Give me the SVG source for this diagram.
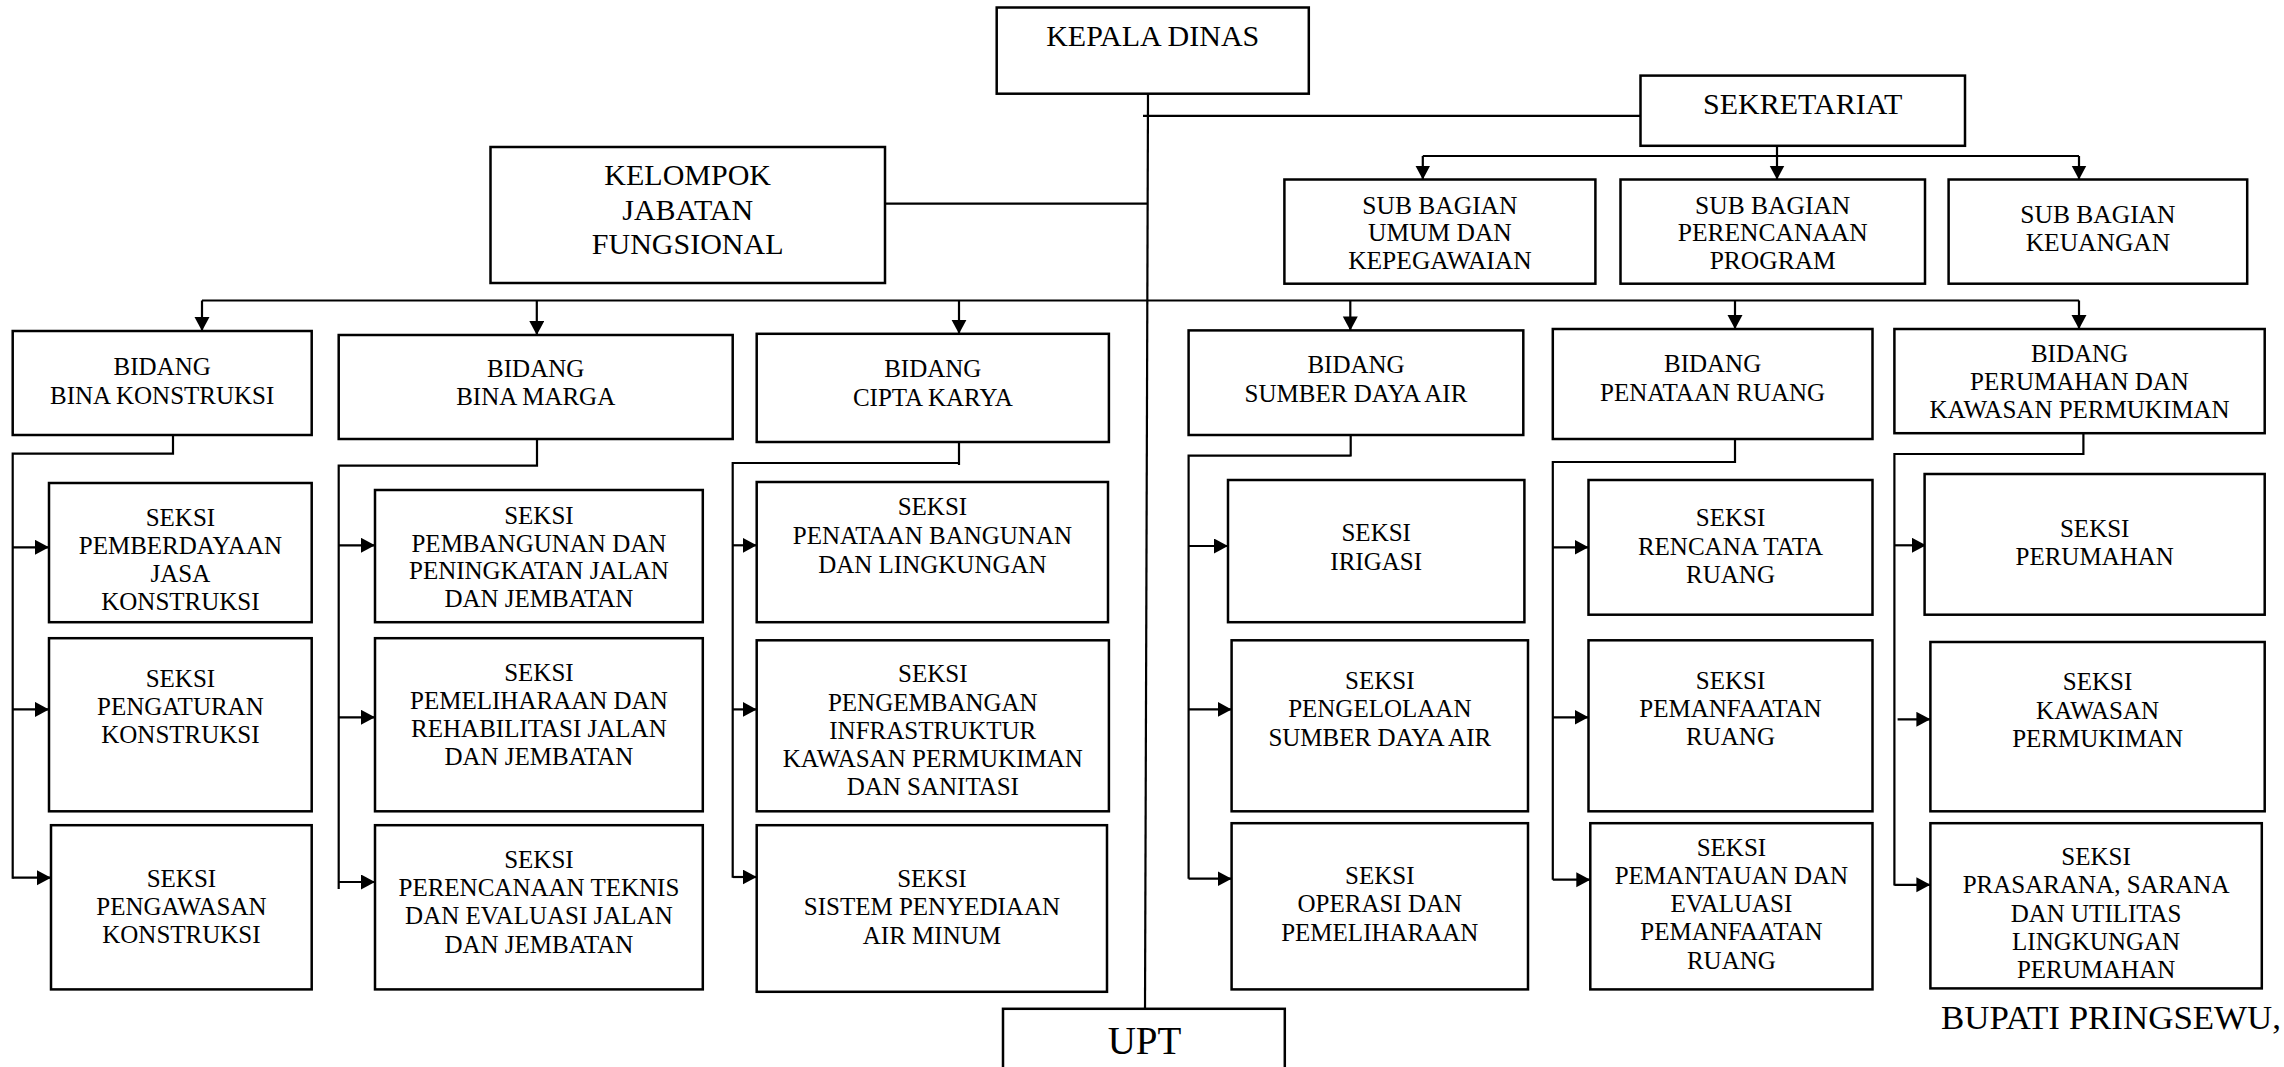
<svg xmlns="http://www.w3.org/2000/svg" width="2284" height="1067" viewBox="0 0 2284 1067">
<style>
.box{fill:#fff;stroke:#000;stroke-width:2.5}
.t{font-family:"Liberation Serif","Times New Roman",serif;font-size:25px;text-anchor:middle;fill:#000}
.big{font-size:30px}
.sb{font-size:25.5px}
.ln{stroke:#000;stroke-width:2.2;fill:none}
.ar{stroke:#000;stroke-width:2.2;fill:none;marker-end:url(#ah)}
</style>
<defs>
<marker id="ah" markerUnits="userSpaceOnUse" markerWidth="15" markerHeight="16" refX="14" refY="7.5" orient="auto">
<path d="M0,0 L14,7.5 L0,15 z" fill="#000"/>
</marker>
</defs>
<rect width="2284" height="1067" fill="#fff"/>

<g id="connectors">
<!-- main vertical -->
<path class="ln" d="M1148,94 L1145,1009"/>
<!-- sekretariat -->
<path class="ln" d="M1143,115.8 H1640.5"/>
<!-- kelompok -->
<path class="ln" d="M885,203.7 H1148"/>
<!-- sub bagian bus -->
<path class="ln" d="M1777,145.8 V156 M1422.8,156 H2079"/>
<path class="ar" d="M1422.8,156 V179.5"/>
<path class="ar" d="M1777,156 V179.5"/>
<path class="ar" d="M2079,156 V179.5"/>
<!-- bidang bus -->
<path class="ln" d="M202,300.5 H2079"/>
<path class="ar" d="M202,300.5 V331"/>
<path class="ar" d="M536.8,300.5 V335"/>
<path class="ar" d="M959,300.5 V333.8"/>
<path class="ar" d="M1350.3,300.5 V330.4"/>
<path class="ar" d="M1735,300.5 V329"/>
<path class="ar" d="M2079,300.5 V329"/>
<!-- BK -->
<path class="ln" d="M173,435 V454.7 M173,453.7 H12.7 V878.7"/>
<path class="ar" d="M12.7,547.3 H49"/>
<path class="ar" d="M12.7,709.4 H49"/>
<path class="ar" d="M12.7,877.7 H51"/>
<!-- BM -->
<path class="ln" d="M537,439 V465.6 H338.7 V889"/>
<path class="ar" d="M338.7,545.3 H375"/>
<path class="ar" d="M338.7,717.3 H375"/>
<path class="ar" d="M338.7,882 H375"/>
<!-- CK -->
<path class="ln" d="M959,442 V465 M959,463 H732.7 V877.7"/>
<path class="ar" d="M732.7,545.3 H756.7"/>
<path class="ar" d="M732.7,709.4 H756.7"/>
<path class="ar" d="M732.7,877 H756.7"/>
<!-- SDA -->
<path class="ln" d="M1350.7,435 V456.4 M1350.7,455.7 H1188.6 V878.7"/>
<path class="ar" d="M1188.6,546 H1228"/>
<path class="ar" d="M1188.6,709.4 H1231.6"/>
<path class="ar" d="M1188.6,878.7 H1231.6"/>
<!-- PR -->
<path class="ln" d="M1735,435 V462 H1552.8 V879.7"/>
<path class="ar" d="M1552.8,547.3 H1588.5"/>
<path class="ar" d="M1552.8,717.3 H1588.5"/>
<path class="ar" d="M1552.8,879.7 H1590.3"/>
<!-- PK -->
<path class="ln" d="M2083.4,433 V454 H1894.4 V885.5"/>
<path class="ar" d="M1894.4,545.3 H1926"/>
<path class="ar" d="M1897.6,719.3 H1930.4"/>
<path class="ar" d="M1894.4,884.8 H1930.4"/>
</g>

<g id="kepala-dinas"><rect class="box" x="996.7" y="7.5" width="312.1" height="86.2"/>
<text class="t big" x="1152.7" y="46">KEPALA DINAS</text></g>

<g id="sekretariat"><rect class="box" x="1640.5" y="75.6" width="324.5" height="70.2"/>
<text class="t big" x="1802.7" y="114">SEKRETARIAT</text></g>

<g id="kelompok-jabatan-fungsional"><rect class="box" x="490.5" y="147" width="394.5" height="136"/>
<text class="t big" x="687.7" y="185">KELOMPOK</text>
<text class="t big" x="687.7" y="219.5">JABATAN</text>
<text class="t big" x="687.7" y="254">FUNGSIONAL</text></g>

<g id="sub-bagian-umum"><rect class="box" x="1284.4" y="179.5" width="311" height="104.2"/>
<text class="t sb" x="1439.9" y="213.6">SUB BAGIAN</text>
<text class="t sb" x="1439.9" y="241.3">UMUM DAN</text>
<text class="t sb" x="1439.9" y="269">KEPEGAWAIAN</text></g>

<g id="sub-bagian-perencanaan"><rect class="box" x="1620.5" y="179.5" width="304.5" height="104.2"/>
<text class="t sb" x="1772.7" y="213.6">SUB BAGIAN</text>
<text class="t sb" x="1772.7" y="241.3">PERENCANAAN</text>
<text class="t sb" x="1772.7" y="269">PROGRAM</text></g>

<g id="sub-bagian-keuangan"><rect class="box" x="1948.6" y="179.5" width="298.6" height="104.2"/>
<text class="t sb" x="2097.9" y="223">SUB BAGIAN</text>
<text class="t sb" x="2097.9" y="250.5">KEUANGAN</text></g>

<g id="bidang-bina-konstruksi"><rect class="box" x="12.7" y="331" width="299" height="104"/>
<text class="t" x="162.2" y="374.7">BIDANG</text>
<text class="t" x="162.2" y="403.6">BINA KONSTRUKSI</text></g>

<g id="bidang-bina-marga"><rect class="box" x="338.7" y="335" width="394" height="104"/>
<text class="t" x="535.7" y="377">BIDANG</text>
<text class="t" x="535.7" y="405">BINA MARGA</text></g>

<g id="bidang-cipta-karya"><rect class="box" x="756.7" y="333.8" width="352.2" height="108.2"/>
<text class="t" x="932.8" y="376.7">BIDANG</text>
<text class="t" x="932.8" y="406">CIPTA KARYA</text></g>

<g id="bidang-sumber-daya-air"><rect class="box" x="1188.6" y="330.4" width="334.7" height="104.6"/>
<text class="t" x="1356" y="373">BIDANG</text>
<text class="t" x="1356" y="402">SUMBER DAYA AIR</text></g>

<g id="bidang-penataan-ruang"><rect class="box" x="1552.8" y="329" width="319.7" height="110"/>
<text class="t" x="1712.6" y="372">BIDANG</text>
<text class="t" x="1712.6" y="401">PENATAAN RUANG</text></g>

<g id="bidang-perumahan"><rect class="box" x="1894.4" y="329" width="370.3" height="104.2"/>
<text class="t" x="2079.5" y="362">BIDANG</text>
<text class="t" x="2079.5" y="390">PERUMAHAN DAN</text>
<text class="t" x="2079.5" y="418.3">KAWASAN PERMUKIMAN</text></g>

<g id="seksi-pemberdayaan-jasa-konstruksi"><rect class="box" x="49" y="483" width="262.7" height="139.2"/>
<text class="t" x="180.4" y="526">SEKSI</text>
<text class="t" x="180.4" y="554">PEMBERDAYAAN</text>
<text class="t" x="180.4" y="582.2">JASA</text>
<text class="t" x="180.4" y="610.3">KONSTRUKSI</text></g>

<g id="seksi-pengaturan-konstruksi"><rect class="box" x="49" y="638.2" width="262.7" height="173.1"/>
<text class="t" x="180.4" y="687">SEKSI</text>
<text class="t" x="180.4" y="715.2">PENGATURAN</text>
<text class="t" x="180.4" y="743.1">KONSTRUKSI</text></g>

<g id="seksi-pengawasan-konstruksi"><rect class="box" x="51" y="825.2" width="260.7" height="164.2"/>
<text class="t" x="181.4" y="887.2">SEKSI</text>
<text class="t" x="181.4" y="915.2">PENGAWASAN</text>
<text class="t" x="181.4" y="943.4">KONSTRUKSI</text></g>

<g id="seksi-pembangunan-jalan"><rect class="box" x="375" y="490" width="327.8" height="132.2"/>
<text class="t" x="538.9" y="523.5">SEKSI</text>
<text class="t" x="538.9" y="551.7">PEMBANGUNAN DAN</text>
<text class="t" x="538.9" y="579">PENINGKATAN JALAN</text>
<text class="t" x="538.9" y="606.5">DAN JEMBATAN</text></g>

<g id="seksi-pemeliharaan-jalan"><rect class="box" x="375" y="638.2" width="327.8" height="173.1"/>
<text class="t" x="538.9" y="681">SEKSI</text>
<text class="t" x="538.9" y="709.4">PEMELIHARAAN DAN</text>
<text class="t" x="538.9" y="737">REHABILITASI JALAN</text>
<text class="t" x="538.9" y="765.2">DAN JEMBATAN</text></g>

<g id="seksi-perencanaan-teknis"><rect class="box" x="375" y="825.2" width="327.8" height="164.2"/>
<text class="t" x="538.9" y="868">SEKSI</text>
<text class="t" x="538.9" y="896">PERENCANAAN TEKNIS</text>
<text class="t" x="538.9" y="924">DAN EVALUASI JALAN</text>
<text class="t" x="538.9" y="952.7">DAN JEMBATAN</text></g>

<g id="seksi-penataan-bangunan"><rect class="box" x="756.7" y="482" width="351.3" height="140.2"/>
<text class="t" x="932.4" y="515">SEKSI</text>
<text class="t" x="932.4" y="543.5">PENATAAN BANGUNAN</text>
<text class="t" x="932.4" y="573">DAN LINGKUNGAN</text></g>

<g id="seksi-pengembangan-infrastruktur"><rect class="box" x="756.7" y="640.3" width="352.2" height="171"/>
<text class="t" x="932.8" y="682">SEKSI</text>
<text class="t" x="932.8" y="710.8">PENGEMBANGAN</text>
<text class="t" x="932.8" y="738.7">INFRASTRUKTUR</text>
<text class="t" x="932.8" y="767">KAWASAN PERMUKIMAN</text>
<text class="t" x="932.8" y="795.3">DAN SANITASI</text></g>

<g id="seksi-sistem-penyediaan-air-minum"><rect class="box" x="756.7" y="825.2" width="350.3" height="166.6"/>
<text class="t" x="931.9" y="887.2">SEKSI</text>
<text class="t" x="931.9" y="915.2">SISTEM PENYEDIAAN</text>
<text class="t" x="931.9" y="944">AIR MINUM</text></g>

<g id="seksi-irigasi"><rect class="box" x="1228" y="480" width="296.4" height="142.2"/>
<text class="t" x="1376.2" y="541">SEKSI</text>
<text class="t" x="1376.2" y="569.8">IRIGASI</text></g>

<g id="seksi-pengelolaan-sda"><rect class="box" x="1231.6" y="640.3" width="296.4" height="171"/>
<text class="t" x="1379.8" y="689">SEKSI</text>
<text class="t" x="1379.8" y="717">PENGELOLAAN</text>
<text class="t" x="1379.8" y="745.9">SUMBER DAYA AIR</text></g>

<g id="seksi-operasi-pemeliharaan"><rect class="box" x="1231.6" y="823.2" width="296.4" height="166.2"/>
<text class="t" x="1379.8" y="884">SEKSI</text>
<text class="t" x="1379.8" y="912">OPERASI DAN</text>
<text class="t" x="1379.8" y="941">PEMELIHARAAN</text></g>

<g id="seksi-rencana-tata-ruang"><rect class="box" x="1588.5" y="480" width="284" height="134.7"/>
<text class="t" x="1730.5" y="526">SEKSI</text>
<text class="t" x="1730.5" y="554.5">RENCANA TATA</text>
<text class="t" x="1730.5" y="582.8">RUANG</text></g>

<g id="seksi-pemanfaatan-ruang"><rect class="box" x="1588.5" y="640.3" width="284" height="171"/>
<text class="t" x="1730.5" y="689">SEKSI</text>
<text class="t" x="1730.5" y="716.5">PEMANFAATAN</text>
<text class="t" x="1730.5" y="745">RUANG</text></g>

<g id="seksi-pemantauan-evaluasi"><rect class="box" x="1590.3" y="823.2" width="282.2" height="166.2"/>
<text class="t" x="1731.4" y="855.5">SEKSI</text>
<text class="t" x="1731.4" y="884">PEMANTAUAN DAN</text>
<text class="t" x="1731.4" y="912">EVALUASI</text>
<text class="t" x="1731.4" y="940">PEMANFAATAN</text>
<text class="t" x="1731.4" y="969">RUANG</text></g>

<g id="seksi-perumahan"><rect class="box" x="1924.6" y="474" width="340.1" height="140.7"/>
<text class="t" x="2094.7" y="536.5">SEKSI</text>
<text class="t" x="2094.7" y="565">PERUMAHAN</text></g>

<g id="seksi-kawasan-permukiman"><rect class="box" x="1930.4" y="642" width="334.3" height="169.3"/>
<text class="t" x="2097.6" y="690.4">SEKSI</text>
<text class="t" x="2097.6" y="718.6">KAWASAN</text>
<text class="t" x="2097.6" y="747">PERMUKIMAN</text></g>

<g id="seksi-prasarana-sarana-utilitas"><rect class="box" x="1930.4" y="823.2" width="331.4" height="165.2"/>
<text class="t" x="2096.1" y="865">SEKSI</text>
<text class="t" x="2096.1" y="893.4">PRASARANA, SARANA</text>
<text class="t" x="2096.1" y="922">DAN UTILITAS</text>
<text class="t" x="2096.1" y="950.2">LINGKUNGAN</text>
<text class="t" x="2096.1" y="978.2">PERUMAHAN</text></g>

<g id="upt"><rect class="box" x="1003" y="1008.8" width="281.8" height="80"/>
<text class="t" style="font-size:39px" x="1144.5" y="1054">UPT</text></g>

<g id="bupati"><text class="t" style="font-size:33px;text-anchor:start" x="1941" y="1028.6" textLength="340" lengthAdjust="spacingAndGlyphs">BUPATI PRINGSEWU,</text></g>
</svg>
